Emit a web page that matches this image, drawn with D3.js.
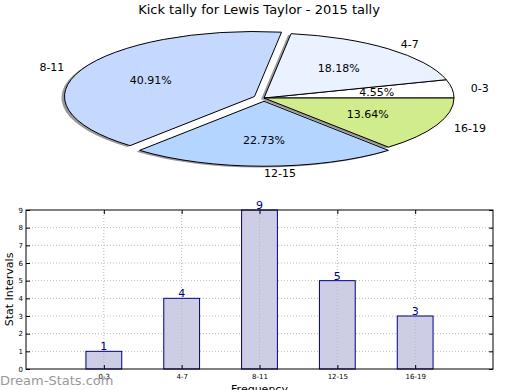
<!DOCTYPE html>
<html>
<head>
<meta charset="utf-8">
<script src="https://cdn.jsdelivr.net/npm/d3@7"></script>
<style>
body { margin: 0; background: #fff; }
svg { font-family: "DejaVu Sans", sans-serif; }
</style>
</head>
<body>
<svg id="chart" width="520" height="390"></svg>
<script>
// data
var categories = ["0-3", "4-7", "8-11", "12-15", "16-19"];
var counts = [1, 4, 9, 5, 3];
var sliceColors = ["#ffffff", "#eaf2ff", "#c5d9ff", "#b3d5ff", "#d1ec8c"];
var explode = [0, 0, 0.055, 0.05, 0];
var yTicks = [0, 1, 2, 3, 4, 5, 6, 7, 8, 9];

var svg = d3.select("#chart");

svg.append("text")
	.attr("x", 259).attr("y", 14)
	.attr("text-anchor", "middle")
	.attr("font-size", 13)
	.text("Kick tally for Lewis Taylor - 2015 tally");

/* pie (drawn as circle, squashed to ellipse) */
var cx = 264, cy = 98;
var rx = 190, ry = 65;
var sy = ry / rx;
var total = d3.sum(counts);

var pie = d3.pie().sort(null).startAngle(Math.PI / 2).endAngle(Math.PI / 2 - 2 * Math.PI);
var arcs = pie(counts);
var arc = d3.arc().innerRadius(0).outerRadius(rx);

function midTheta(d) {
	// back to math angle (ccw from +x)
	return Math.PI / 2 - (d.startAngle + d.endAngle) / 2;
}

var pieG = svg.append("g");

arcs.forEach(function(d, i) {
	var t = midTheta(d);
	var ox = explode[i] * rx * Math.cos(t);
	var oy = -explode[i] * ry * Math.sin(t);
	// shadow
	pieG.append("path")
		.attr("d", arc(d))
		.attr("transform", "translate(" + (cx + ox - 3) + "," + (cy + oy + 1.3) + ") scale(1," + sy + ")")
		.attr("fill", "#000")
		.attr("fill-opacity", 0.4);
});

arcs.forEach(function(d, i) {
	var t = midTheta(d);
	var ox = explode[i] * rx * Math.cos(t);
	var oy = -explode[i] * ry * Math.sin(t);
	pieG.append("path")
		.attr("d", arc(d))
		.attr("transform", "translate(" + (cx + ox) + "," + (cy + oy) + ") scale(1," + sy + ")")
		.attr("fill", sliceColors[i])
		.attr("stroke", "#000")
		.attr("stroke-width", 1)
		.attr("vector-effect", "non-scaling-stroke");

	var c = Math.cos(t), s = Math.sin(t);
	// outer label
	pieG.append("text")
		.attr("x", cx + ox + 1.1 * rx * c)
		.attr("y", cy + oy - 1.1 * ry * s)
		.attr("dy", "0.35em")
		.attr("text-anchor", c < -1e-9 ? "end" : "start")
		.attr("font-size", 11)
		.text(categories[i]);
	// percent
	pieG.append("text")
		.attr("x", cx + ox + 0.6 * rx * c)
		.attr("y", cy + oy - 0.6 * ry * s)
		.attr("dy", "0.35em")
		.attr("text-anchor", "middle")
		.attr("font-size", 11)
		.text((counts[i] / total * 100).toFixed(2) + "%");
});

/* bar chart */
var x = d3.scaleLinear().domain([0, 6]).range([26, 493]);
var y = d3.scaleLinear().domain([0, 9]).range([369, 210]);
var barW = x(0.46) - x(0);

var barG = svg.append("g");

// grid
barG.selectAll(".hgrid").data(yTicks.slice(1, -1)).enter().append("line")
	.attr("x1", x(0)).attr("x2", x(6))
	.attr("y1", function(d) { return y(d); }).attr("y2", function(d) { return y(d); })
	.attr("stroke", "#b8b8b8").attr("stroke-dasharray", "1,2");
barG.selectAll(".vgrid").data(categories).enter().append("line")
	.attr("x1", function(d, i) { return x(i + 1); }).attr("x2", function(d, i) { return x(i + 1); })
	.attr("y1", y(0)).attr("y2", y(9))
	.attr("stroke", "#b8b8b8").attr("stroke-dasharray", "1,2");

barG.selectAll(".bar").data(counts).enter().append("rect")
	.attr("x", function(d, i) { return x(i + 1) - barW / 2; })
	.attr("y", function(d) { return y(d); })
	.attr("width", barW)
	.attr("height", function(d) { return y(0) - y(d); })
	.attr("fill", "#cdcde6")
	.attr("stroke", "#000080")
	.attr("stroke-width", 1);

// vertical grid over bars (drawn on top like the picture)
barG.selectAll(".vgrid2").data(counts).enter().append("line")
	.attr("x1", function(d, i) { return x(i + 1); }).attr("x2", function(d, i) { return x(i + 1); })
	.attr("y1", y(0)).attr("y2", function(d) { return y(d); })
	.attr("stroke", "#b8b8b8").attr("stroke-dasharray", "1,2");

barG.selectAll(".val").data(counts).enter().append("text")
	.attr("x", function(d, i) { return x(i + 1); })
	.attr("y", function(d) { return y(d) - 1; })
	.attr("text-anchor", "middle")
	.attr("font-size", 11)
	.attr("fill", "#000080")
	.text(function(d) { return d; });

// axes
var yAxis = d3.axisLeft(y).tickValues(yTicks).tickSize(-4).tickPadding(3);
var yAxisR = d3.axisRight(y).tickValues(yTicks).tickSize(-4).tickFormat("");
var xAxis = d3.axisBottom(x).tickValues([1, 2, 3, 4, 5]).tickSize(-4).tickPadding(5)
	.tickFormat(function(d) { return categories[d - 1]; });
var xAxisT = d3.axisTop(x).tickValues([1, 2, 3, 4, 5]).tickSize(-4).tickFormat("");

function styleAxis(g) {
	g.select(".domain").remove();
	g.selectAll("text").attr("font-size", 7).attr("font-family", "DejaVu Sans, sans-serif").attr("fill", "#000");
	g.selectAll("line").attr("stroke", "#000");
}
barG.append("g").attr("transform", "translate(" + x(0) + ",0)").call(yAxis).call(styleAxis);
barG.append("g").attr("transform", "translate(" + x(6) + ",0)").call(yAxisR).call(styleAxis);
barG.append("g").attr("transform", "translate(0," + y(0) + ")").call(xAxis).call(styleAxis);
barG.append("g").attr("transform", "translate(0," + y(9) + ")").call(xAxisT).call(styleAxis);

barG.append("rect")
	.attr("x", x(0)).attr("y", y(9))
	.attr("width", x(6) - x(0)).attr("height", y(0) - y(9))
	.attr("fill", "none").attr("stroke", "#000").attr("stroke-width", 1);

svg.append("text")
	.attr("transform", "translate(13," + ((y(0) + y(9)) / 2) + ") rotate(-90)")
	.attr("text-anchor", "middle")
	.attr("font-size", 11)
	.text("Stat Intervals");

svg.append("text")
	.attr("x", (x(0) + x(6)) / 2).attr("y", 393)
	.attr("text-anchor", "middle")
	.attr("font-size", 11)
	.text("Frequency");

svg.append("text")
	.attr("x", 0).attr("y", 385)
	.attr("font-size", 13)
	.attr("fill", "#999999")
	.text("Dream-Stats.com");
</script>
</body>
</html>
